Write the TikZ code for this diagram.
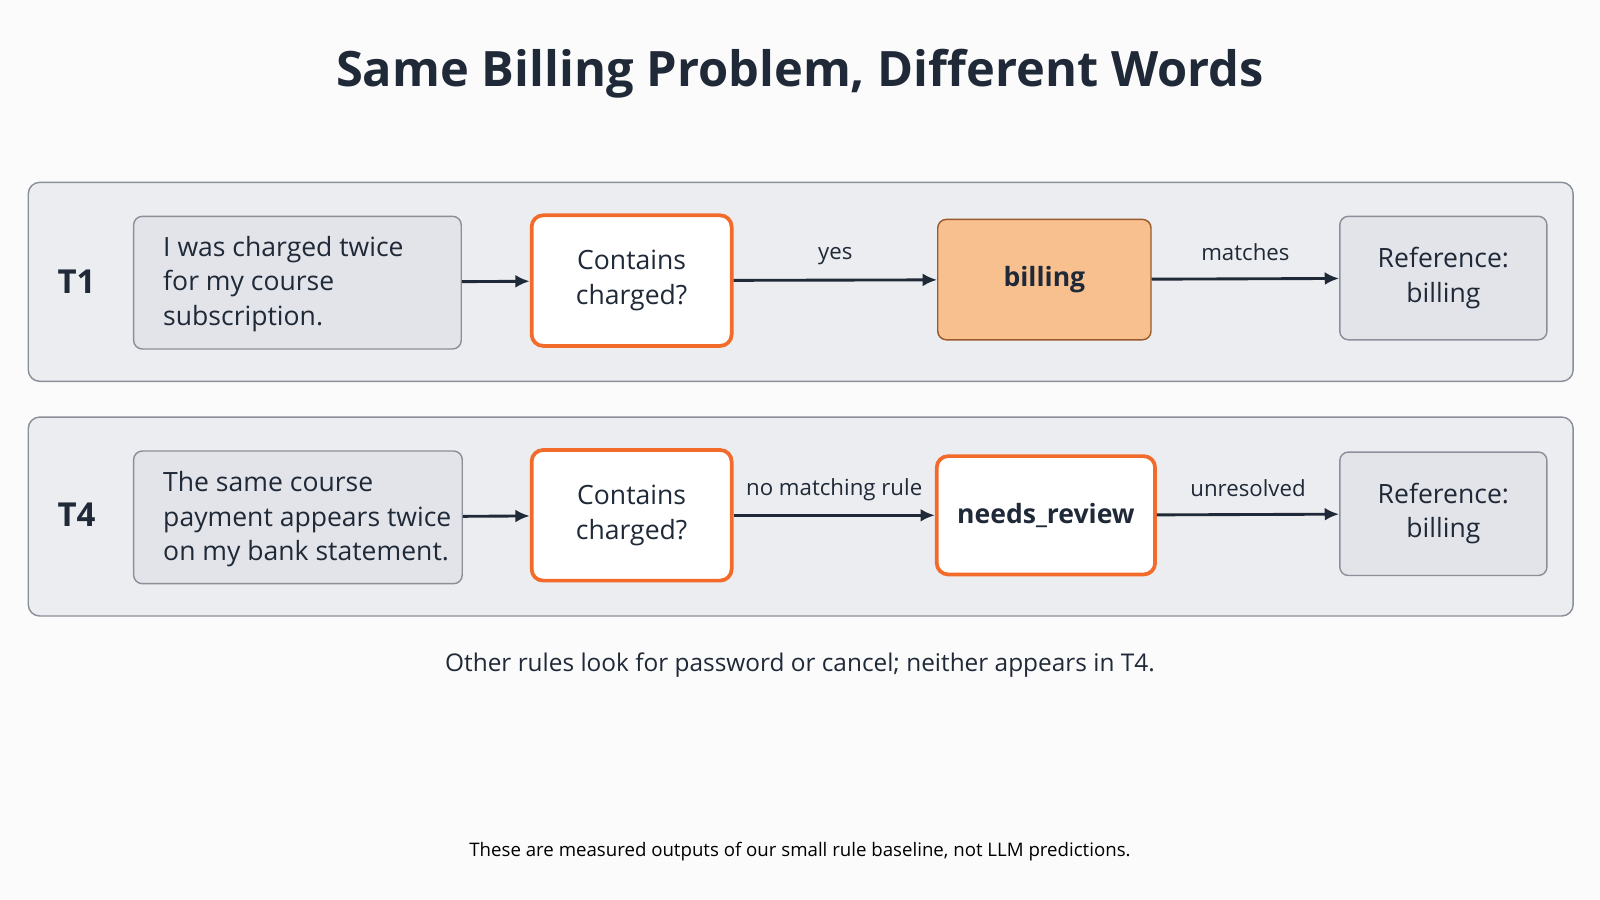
\documentclass[tikz,border=0pt]{standalone}
\usepackage{fontspec}
\setmainfont{Open Sans}
\usetikzlibrary{arrows.meta}
\definecolor{ink}{HTML}{1F2937}
\definecolor{panel}{HTML}{ECEDF0}
\definecolor{pborder}{HTML}{8A8F99}
\definecolor{boxfill}{HTML}{E3E4E9}
\definecolor{orange}{HTML}{F26B2A}
\definecolor{peach}{HTML}{F8C08F}
\definecolor{brownb}{HTML}{9A5A2E}
\begin{document}
\begin{tikzpicture}[x=0.025cm,y=-0.025cm,
 panel/.style={draw=pborder,fill=panel,rounded corners=8pt,line width=1pt},
 gbox/.style={draw=pborder,fill=boxfill,rounded corners=6pt,line width=1pt},
 obox/.style={draw=orange,fill=white,rounded corners=8pt,line width=2.6pt},
 pbox/.style={draw=brownb,fill=peach,rounded corners=6pt,line width=1pt},
 txt/.style={text=ink,font=\fontsize{18.5}{24}\selectfont,align=center},
 ltxt/.style={text=ink,font=\fontsize{18.5}{24}\selectfont,align=left},
 elab/.style={text=ink,font=\fontsize{15.5}{19}\selectfont},
 arr/.style={draw=ink,line width=2pt,-{Latex[length=10pt,width=9pt]}}]
\fill[white!97!gray] (0,0) rectangle (1568,882);
\useasboundingbox (0,0) rectangle (1568,882);
\node[text=ink,font=\fontsize{34}{40}\selectfont\bfseries] (title) at (784,72) {Same Billing Problem, Different Words};
% panels
\node[panel,minimum width=1514*0.025cm,minimum height=195*0.025cm,anchor=north west] (p1) at (27,178) {};
\node[panel,minimum width=1514*0.025cm,minimum height=195*0.025cm,anchor=north west] (p2) at (27,408) {};
\node[text=ink,font=\fontsize{23}{28}\selectfont\bfseries] (t1) at (75,276) {T1};
\node[text=ink,font=\fontsize{23}{28}\selectfont\bfseries] (t4) at (75,504) {T4};
% row 1
\node[gbox,minimum width=321*0.025cm,minimum height=130*0.025cm] (s1) at (291.5,277) {};
\node[ltxt,anchor=west] at (155,278) {I was charged twice\\for my course\\subscription.};
\node[obox,txt,minimum width=196*0.025cm,minimum height=128*0.025cm] (c1) at (619,275) {Contains\\charged?};
\node[pbox,txt,font=\fontsize{18.5}{24}\selectfont\bfseries,minimum width=209*0.025cm,minimum height=118*0.025cm] (b1) at (1023.5,274) {billing};
\node[gbox,txt,minimum width=203*0.025cm,minimum height=121*0.025cm] (r1) at (1414.5,272.5) {Reference:\\billing};
\draw[arr] (s1) -- (c1);
\draw[arr] (c1) -- node[elab,above=6pt]{yes} (b1);
\draw[arr] (b1) -- node[elab,above=8pt]{matches} (r1);
% row 2
\node[gbox,minimum width=322*0.025cm,minimum height=130*0.025cm] (s2) at (292,507) {};
\node[ltxt,anchor=west] at (155,509) {The same course\\payment appears twice\\on my bank statement.};
\node[obox,txt,minimum width=196*0.025cm,minimum height=128*0.025cm] (c2) at (619,505) {Contains\\charged?};
\node[obox,txt,font=\fontsize{18.5}{24}\selectfont\bfseries,minimum width=214*0.025cm,minimum height=116*0.025cm] (n2) at (1025,505) {needs\_review};
\node[gbox,txt,minimum width=203*0.025cm,minimum height=121*0.025cm] (r2) at (1414.5,503.5) {Reference:\\billing};
\draw[arr] (s2) -- (c2);
\draw[arr] (c2) -- node[elab,above=6pt]{no matching rule} (n2);
\draw[arr] (n2) -- node[elab,above=8pt]{unresolved} (r2);
\node[text=ink,font=\fontsize{17}{21}\selectfont] (note) at (784,652) {Other rules look for password or cancel; neither appears in T4.};
\node[text=black,font=\fontsize{13}{16}\selectfont] (foot) at (784,835) {These are measured outputs of our small rule baseline, not LLM predictions.};
\end{tikzpicture}
\end{document}
